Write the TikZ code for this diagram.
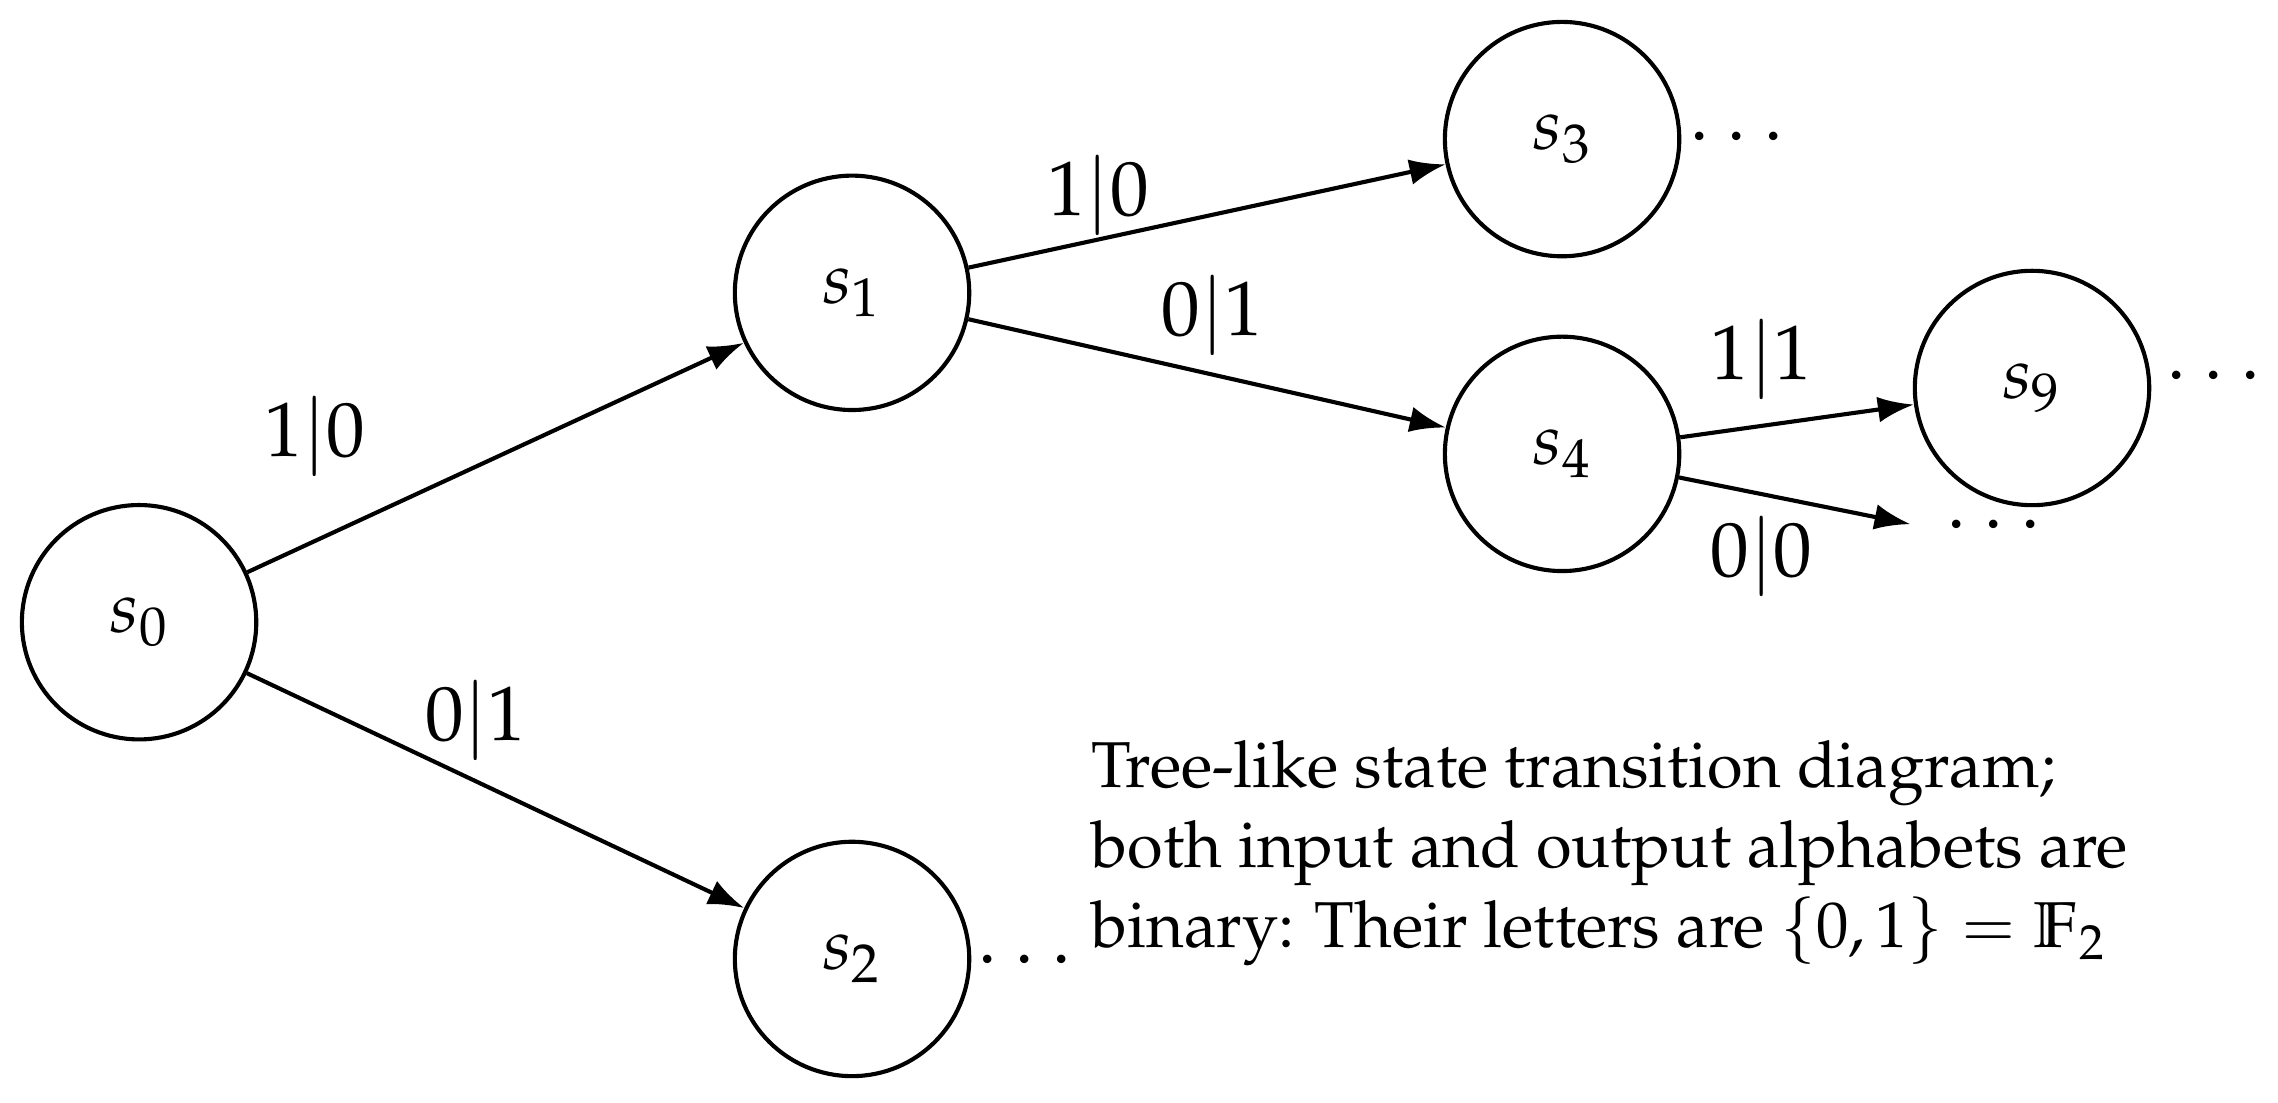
\documentclass[tikz,border=0pt]{standalone}
\usepackage[T1]{fontenc}
\usepackage{mathpazo}
\usetikzlibrary{arrows.meta}
\begin{document}
\begin{tikzpicture}[x=0.01cm,y=-0.01cm,
  st/.style={circle,draw,line width=0.8pt,minimum size=1.6cm,inner sep=0pt,font=\fontsize{14}{16}\selectfont},
  ed/.style={line width=0.8pt,-{Latex[length=7pt,width=5pt]}},
  lb/.style={font=\fontsize{15}{17}\selectfont}]
\useasboundingbox (0,0) rectangle (1556,753);
\node[st] (s0) at (95,425) {$s_0$};
\node[st] (s1) at (582,200) {$s_1$};
\node[st] (s2) at (582,655) {$s_2$};
\node[st] (s3) at (1067,95) {$s_3$};
\node[st] (s4) at (1067,310) {$s_4$};
\node[st] (s9) at (1388,265) {$s_9$};
\coordinate (e) at (1305,358);
\draw[ed] (s0) -- (s1);
\draw[ed] (s0) -- (s2);
\draw[ed] (s1) -- (s3);
\draw[ed] (s1) -- (s4);
\draw[ed] (s4) -- (s9);
\draw[ed] (s4) -- (e);
\node[lb] (l1) at (215,298) {$1|0$};
\node[lb] (l2) at (325,492) {$0|1$};
\node[lb] (l3) at (750,133) {$1|0$};
\node[lb] (l4) at (828,215) {$0|1$};
\node[lb] (l5) at (1203,245) {$1|1$};
\node[lb] (l6) at (1203,380) {$0|0$};
\node[lb] (d3) at (1186,95) {$\cdots$};
\node[lb] (d2) at (700,657) {$\cdots$};
\node[lb] (d9) at (1512,258) {$\cdots$};
\node[lb] (de) at (1362,360) {$\cdots$};
\node[anchor=north west,align=left,inner sep=0pt,font=\fontsize{12.6}{15.6}\selectfont] (t) at (745,505)
 {Tree-like state transition diagram;\\
  both input and output alphabets are\\
  binary: Their letters are $\{0,1\}=\mathbb{F}_2$};
\end{tikzpicture}
\end{document}
